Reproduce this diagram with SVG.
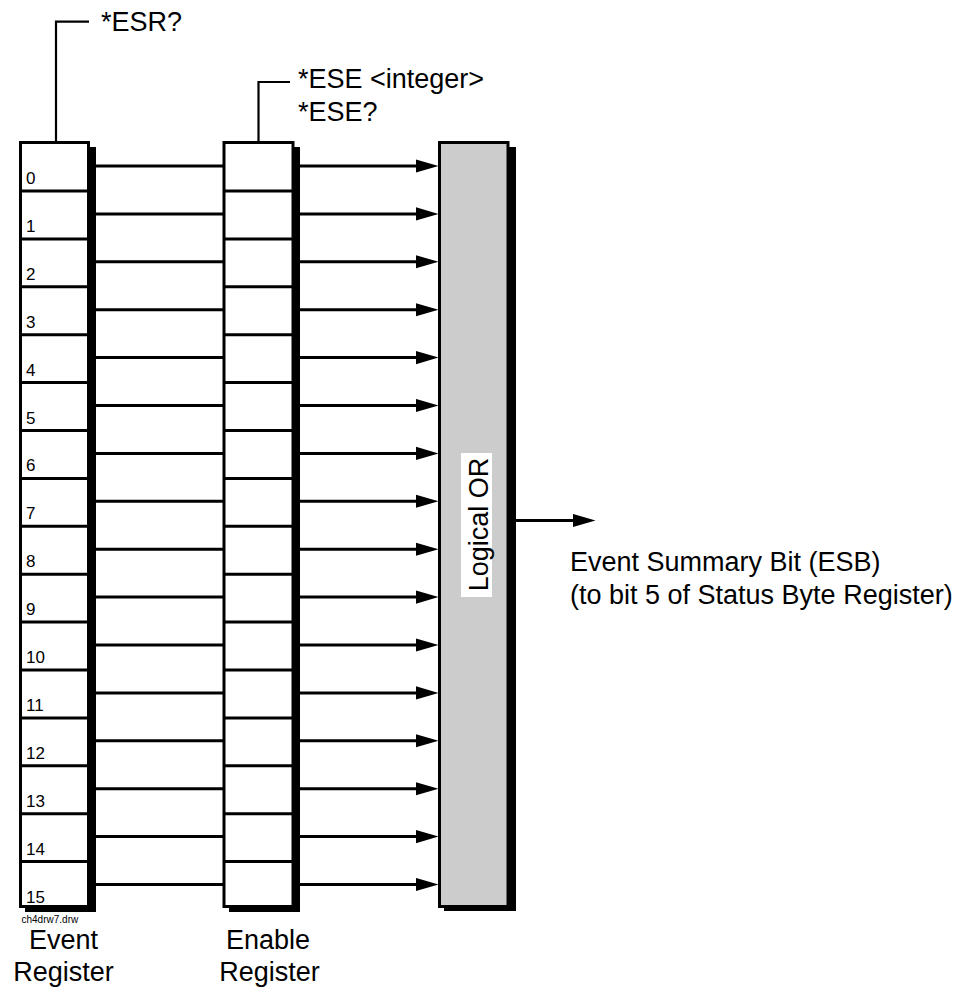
<svg xmlns="http://www.w3.org/2000/svg" width="965" height="989" viewBox="0 0 965 989">
<style>
  text { font-family: "Liberation Sans", Arial, Helvetica, sans-serif; fill: #000; }
  .lbl { font-size: 27px; }
  .bit { font-size: 17px; }
  .tiny { font-size: 10px; }
  .shadow { fill: #000; stroke: none; }
  .reg { fill: #fff; stroke: #000; stroke-width: 3; }
  .orbox { fill: #cccccc; stroke: #000; stroke-width: 3; }
  .div { fill: none; stroke: #000; stroke-width: 3; }
  .wire { fill: none; stroke: #000; stroke-width: 3; }
  .arr { fill: none; stroke: #000; stroke-width: 3; marker-end: url(#ah); }
  .brk { fill: none; stroke: #000; stroke-width: 2.2; }
</style>
<defs>
  <marker id="ah" markerUnits="userSpaceOnUse" markerWidth="24" markerHeight="14" viewBox="0 0 24 14" refX="0.5" refY="7" orient="auto">
    <path d="M0,0.3 L23,7 L0,13.7 Z" fill="#000"/>
  </marker>
</defs>

<g id="esr-label">
  <path class="brk" d="M56,141 V21.7 H89"/>
  <text class="lbl" x="101" y="31">*ESR?</text>
</g>

<g id="ese-label">
  <path class="brk" d="M258.5,141 V82 H290"/>
  <text class="lbl" x="298" y="88">*ESE &lt;integer&gt;</text>
  <text class="lbl" x="298" y="121">*ESE?</text>
</g>

<g id="event-register">
  <rect class="shadow" x="25" y="147" width="71" height="765"/>
  <rect class="reg" x="20.5" y="142.5" width="68" height="764"/>
  <path class="div" d="M20.5,191 H88.5 M20.5,238.9 H88.5 M20.5,286.8 H88.5 M20.5,334.7 H88.5 M20.5,382.6 H88.5 M20.5,430.5 H88.5 M20.5,478.4 H88.5 M20.5,526.3 H88.5 M20.5,574.2 H88.5 M20.5,622.1 H88.5 M20.5,670 H88.5 M20.5,717.9 H88.5 M20.5,765.8 H88.5 M20.5,813.7 H88.5 M20.5,861.6 H88.5"/>
  <text class="bit" x="26" y="184">0</text>
  <text class="bit" x="26" y="231.9">1</text>
  <text class="bit" x="26" y="279.8">2</text>
  <text class="bit" x="26" y="327.7">3</text>
  <text class="bit" x="26" y="375.6">4</text>
  <text class="bit" x="26" y="423.5">5</text>
  <text class="bit" x="26" y="471.4">6</text>
  <text class="bit" x="26" y="519.3">7</text>
  <text class="bit" x="26" y="567.2">8</text>
  <text class="bit" x="26" y="615.1">9</text>
  <text class="bit" x="26" y="663">10</text>
  <text class="bit" x="26" y="710.9">11</text>
  <text class="bit" x="26" y="758.8">12</text>
  <text class="bit" x="26" y="806.7">13</text>
  <text class="bit" x="26" y="854.6">14</text>
  <text class="bit" x="26" y="902.5">15</text>
  <text class="tiny" x="21.5" y="922.5">ch4drw7.drw</text>
  <text class="lbl" x="63.5" y="949" text-anchor="middle">Event</text>
  <text class="lbl" x="63.5" y="981" text-anchor="middle">Register</text>
</g>

<g id="enable-register">
  <rect class="shadow" x="229" y="147" width="71" height="765"/>
  <rect class="reg" x="224" y="142.5" width="69" height="764"/>
  <path class="div" d="M224,191 H293 M224,238.9 H293 M224,286.8 H293 M224,334.7 H293 M224,382.6 H293 M224,430.5 H293 M224,478.4 H293 M224,526.3 H293 M224,574.2 H293 M224,622.1 H293 M224,670 H293 M224,717.9 H293 M224,765.8 H293 M224,813.7 H293 M224,861.6 H293"/>
  <text class="lbl" x="268" y="949" text-anchor="middle">Enable</text>
  <text class="lbl" x="269.5" y="981" text-anchor="middle">Register</text>
</g>

<g id="logical-or">
  <rect class="shadow" x="444" y="147" width="72" height="764"/>
  <rect class="orbox" x="439.5" y="142.5" width="68.5" height="764"/>
  <rect x="461" y="453" width="31" height="144" fill="#fff"/>
  <text class="lbl" transform="translate(487.5,524.5) rotate(-90)" text-anchor="middle">Logical OR</text>
</g>

<g id="esb-label">
  <text class="lbl" x="570" y="571">Event Summary Bit (ESB)</text>
  <text class="lbl" x="570" y="604">(to bit 5 of Status Byte Register)</text>
</g>

<g id="connectors">
  <path class="wire" d="M96,166 H223 M96,213.9 H223 M96,261.8 H223 M96,309.7 H223 M96,357.6 H223 M96,405.5 H223 M96,453.4 H223 M96,501.3 H223 M96,549.2 H223 M96,597.1 H223 M96,645 H223 M96,692.9 H223 M96,740.8 H223 M96,788.7 H223 M96,836.6 H223 M96,884.5 H223"/>
  <path class="arr" d="M300,166 H416"/>
  <path class="arr" d="M300,213.9 H416"/>
  <path class="arr" d="M300,261.8 H416"/>
  <path class="arr" d="M300,309.7 H416"/>
  <path class="arr" d="M300,357.6 H416"/>
  <path class="arr" d="M300,405.5 H416"/>
  <path class="arr" d="M300,453.4 H416"/>
  <path class="arr" d="M300,501.3 H416"/>
  <path class="arr" d="M300,549.2 H416"/>
  <path class="arr" d="M300,597.1 H416"/>
  <path class="arr" d="M300,645 H416"/>
  <path class="arr" d="M300,692.9 H416"/>
  <path class="arr" d="M300,740.8 H416"/>
  <path class="arr" d="M300,788.7 H416"/>
  <path class="arr" d="M300,836.6 H416"/>
  <path class="arr" d="M300,884.5 H416"/>
  <path class="arr" d="M516,520.5 H573"/>
</g>
</svg>
